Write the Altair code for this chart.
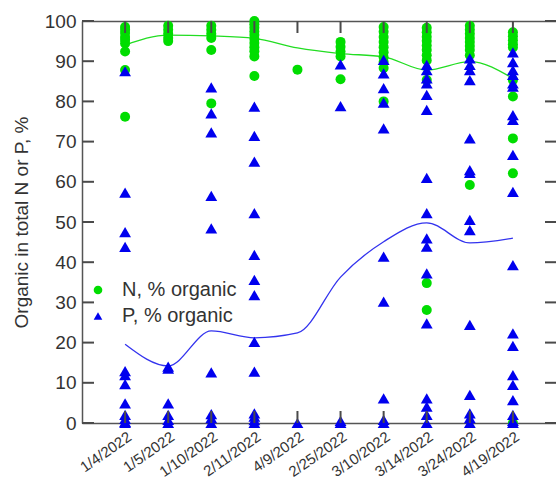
import altair as alt
import pandas as pd

dates = ["1/4/2022", "1/5/2022", "1/10/2022", "2/11/2022", "4/9/2022",
         "2/25/2022", "3/10/2022", "3/14/2022", "3/24/2022", "4/19/2022"]

n_label = "N, % organic"
p_label = "P, % organic"

# N, % organic (green circles), one list per date
n_vals = [
    [98.5, 97.8, 97.0, 96.0, 95.3, 94.4, 92.4, 87.8, 76.2],
    [98.8, 97.8, 96.8, 95.8, 95.0],
    [98.8, 97.8, 96.8, 95.8, 92.8, 79.5],
    [100.0, 99.2, 98.3, 97.4, 96.5, 95.5, 94.5, 93.5, 92.5, 91.2, 86.3],
    [87.9],
    [94.8, 93.6, 92.4, 91.2, 85.5],
    [98.5, 97.3, 96.0, 94.8, 93.5, 92.2, 91.0, 89.8, 88.3, 80.0],
    [98.3, 97.2, 96.1, 95.0, 93.9, 92.8, 91.5, 90.2, 85.3, 34.8, 28.1],
    [98.8, 97.8, 96.8, 95.8, 94.8, 93.8, 92.8, 91.5, 59.2],
    [97.2, 96.2, 95.2, 94.2, 93.4, 85.3, 81.2, 70.8, 62.1, 0.0],
]

# P, % organic (blue triangles), one list per date
p_vals = [
    [87.5, 57.3, 47.5, 43.8, 12.9, 11.9, 9.7, 4.9, 2.0, 1.0, 0.3, 0.0],
    [14.0, 13.5, 4.9, 2.0, 0.8, 0.0],
    [83.5, 77.0, 72.3, 56.5, 48.4, 12.6, 2.2, 1.2, 0.0],
    [78.7, 71.4, 65.0, 52.2, 41.8, 35.6, 31.8, 20.2, 12.8, 2.4, 1.6, 0.7, 0.0],
    [0.0],
    [89.2, 78.8, 0.5, 0.0],
    [90.3, 87.0, 83.3, 79.7, 73.3, 41.4, 30.2, 6.1, 0.8, 0.0],
    [89.1, 87.8, 85.7, 84.5, 81.6, 77.9, 61.0, 52.2, 45.9, 43.9, 37.2, 24.8, 6.1, 4.1, 2.0, 0.0],
    [90.7, 89.1, 87.8, 85.3, 70.8, 62.9, 62.2, 50.5, 48.0, 24.4, 7.0, 2.4, 1.2, 0.0],
    [92.2, 89.8, 87.8, 86.6, 84.5, 83.7, 76.6, 75.4, 66.7, 57.5, 39.3, 22.3, 19.2, 11.9, 9.5, 5.7, 2.0, 0.5, 0.0],
]

# smoothed trend lines
n_line = [94.0, 96.5, 96.3, 95.7, 93.3, 91.9, 91.1, 87.8, 89.9, 85.7]
p_line = [19.6, 14.2, 22.9, 21.2, 22.4, 36.3, 45.1, 49.8, 44.8, 46.0]

# y-axis tick values
yvals = list(range(0, 101, 10))

rows = []
for d, vals in zip(dates, n_vals):
    for v in vals:
        rows.append({"date": d, "value": v, "series": n_label})
for d, vals in zip(dates, p_vals):
    for v in vals:
        rows.append({"date": d, "value": v, "series": p_label})
pts = pd.DataFrame(rows)
n_pts = pts[pts.series == n_label]
p_pts = pts[pts.series == p_label]
n_df = pd.DataFrame({"date": dates, "value": n_line})
p_df = pd.DataFrame({"date": dates, "value": p_line})
xt_df = pd.DataFrame({"date": dates})
yt_df = pd.DataFrame({"value": yvals})

W, H = 474, 402
FONT = "Liberation Sans"
AX = "#555555"
TICKC = "#4a4a4a"
TXT = "#333333"
GREEN = "#00DD00"
BLUE = "#0000EE"
TICK = 12

XS = alt.Scale(type="point", padding=1)
YS = alt.Scale(domain=[0, 100], nice=False, zero=True)

legend = alt.Legend(orient="none", legendX=6, legendY=259, title=None,
                    labelFontSize=20, labelFont=FONT, labelColor=TXT,
                    symbolSize=75, rowPadding=6, labelOffset=14, padding=0)
color = alt.Color("series:N", scale=alt.Scale(domain=[n_label, p_label], range=[GREEN, BLUE]), legend=legend)
shape = alt.Shape("series:N", scale=alt.Scale(domain=[n_label, p_label], range=["circle", "triangle-up"]), legend=legend)

main_x = alt.Axis(orient="bottom", title=None, labelAngle=-35, labelFontSize=15, labelFont=FONT,
                  labelColor=TXT, ticks=False, domain=True, domainColor=AX, domainWidth=1.5,
                  labelPadding=6, grid=False)
main_y = alt.Axis(orient="left", title="Organic in total N or P, %", values=yvals, ticks=False,
                  labelPadding=6, labelFontSize=19, labelFont=FONT, labelColor=TXT,
                  titleFontSize=19, titleFont=FONT, titleColor=TXT, titleFontWeight="normal",
                  titlePadding=13, domain=True, domainColor=AX, domainWidth=1.5, grid=False)
top_x = alt.Axis(orient="bottom", offset=-H, labels=False, domain=True, domainColor=AX, domainWidth=1.5,
                 ticks=False, title=None, grid=False)

# inward tick marks (guides), placed through the shared scales
ticks_bottom = alt.Chart(xt_df).mark_rule(stroke=TICKC, strokeWidth=2, opacity=1).encode(
    x=alt.X("date:N", sort=dates, scale=XS, axis=None),
    y=alt.value(H - TICK), y2=alt.value(H),
)
ticks_top = alt.Chart(xt_df).mark_rule(stroke=TICKC, strokeWidth=2, opacity=1).encode(
    x=alt.X("date:N", sort=dates, scale=XS, axis=None),
    y=alt.value(0), y2=alt.value(TICK),
)
ticks_left = alt.Chart(yt_df).mark_rule(stroke=TICKC, strokeWidth=2, opacity=1).encode(
    y=alt.Y("value:Q", scale=YS, axis=None),
    x=alt.value(0), x2=alt.value(TICK),
)
ticks_right = alt.Chart(yt_df).mark_rule(stroke=TICKC, strokeWidth=2, opacity=1).encode(
    y=alt.Y("value:Q", scale=YS, axis=None),
    x=alt.value(W - 11), x2=alt.value(W),
)

line_n = alt.Chart(n_df).mark_line(color="#22DD22", strokeWidth=1.3, interpolate="monotone").encode(
    x=alt.X("date:N", sort=dates, scale=XS, axis=top_x),
    y=alt.Y("value:Q", scale=YS, axis=None),
)
line_p = alt.Chart(p_df).mark_line(color="#3333EE", strokeWidth=1.3, interpolate="monotone").encode(
    x=alt.X("date:N", sort=dates, scale=XS, axis=None),
    y=alt.Y("value:Q", scale=YS, axis=None),
)
pts_n = alt.Chart(n_pts).mark_point(filled=True, size=100, opacity=1).encode(
    x=alt.X("date:N", sort=dates, scale=XS, axis=main_x),
    y=alt.Y("value:Q", scale=YS, axis=main_y),
    color=color, shape=shape,
)
pts_p = alt.Chart(p_pts).mark_point(filled=True, size=140, opacity=1).encode(
    x=alt.X("date:N", sort=dates, scale=XS, axis=None),
    y=alt.Y("value:Q", scale=YS, axis=None),
    color=color, shape=shape,
)

chart = alt.layer(line_n, line_p, pts_n, pts_p,
                  ticks_bottom, ticks_top, ticks_left, ticks_right).resolve_axis(
    x="independent", y="independent"
).properties(
    width=W, height=H,
    autosize=alt.AutoSizeParams(type="none"),
    padding={"left": 82, "top": 21, "right": 0, "bottom": 54},
    background="white",
).configure_view(stroke=None)

chart.save("out.html", embed_options={"renderer": "svg", "actions": False})
